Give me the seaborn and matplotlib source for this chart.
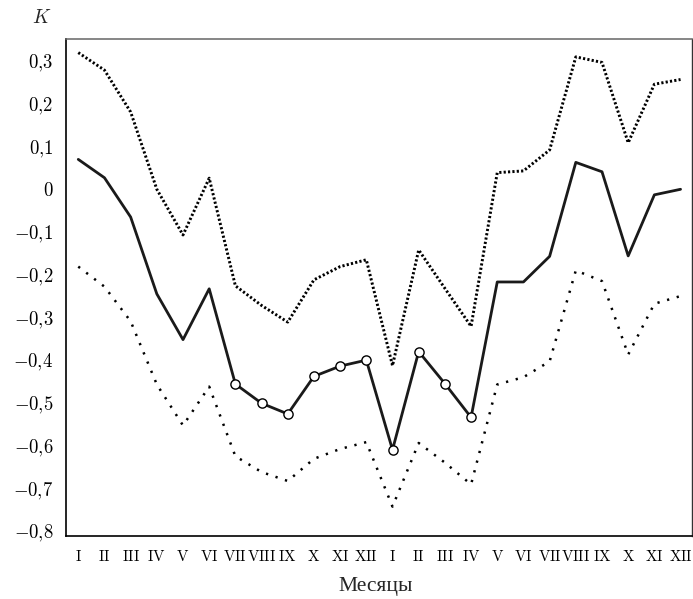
import numpy as np
import pandas as pd
import matplotlib
matplotlib.use("Agg")
import matplotlib.pyplot as plt
import seaborn as sns

# month labels, two consecutive years
months = ["I", "II", "III", "IV", "V", "VI", "VII", "VIII", "IX", "X", "XI", "XII",
          "I", "II", "III", "IV", "V", "VI", "VII", "VIII", "IX", "X", "XI", "XII"]

k_mean = [0.070, 0.027, -0.065, -0.245, -0.352, -0.233, -0.456, -0.501, -0.526, -0.438, -0.414, -0.400,
          -0.610, -0.380, -0.455, -0.534, -0.217, -0.217, -0.157, 0.063, 0.041, -0.156, -0.013, 0.000]
k_upper = [0.320, 0.279, 0.181, 0.000, -0.107, 0.026, -0.226, -0.272, -0.311, -0.212, -0.181, -0.165,
           -0.413, -0.142, -0.232, -0.321, 0.039, 0.043, 0.092, 0.310, 0.297, 0.109, 0.246, 0.257]
k_lower = [-0.181, -0.228, -0.309, -0.457, -0.553, -0.462, -0.625, -0.662, -0.683, -0.631, -0.608, -0.592,
           -0.743, -0.594, -0.640, -0.691, -0.457, -0.440, -0.403, -0.190, -0.215, -0.387, -0.268, -0.250]
# months with a marked point (circles)
marked = [False] * 6 + [True] * 10 + [False] * 8

yticks = [0.3, 0.2, 0.1, 0.0, -0.1, -0.2, -0.3, -0.4, -0.5, -0.6, -0.7, -0.8]

df = pd.DataFrame({
    "pos": np.arange(len(months)),
    "month": months,
    "mean": k_mean,
    "upper": k_upper,
    "lower": k_lower,
    "marked": marked,
})

sns.set_style("white")
plt.rcParams["mathtext.fontset"] = "cm"
plt.rcParams["font.family"] = ["Liberation Serif", "DejaVu Serif"]

fig = plt.figure(figsize=(6.93, 5.99), dpi=100)
ax = fig.add_axes([0.0948, 0.105, 0.9035, 0.830])

sns.lineplot(data=df, x="pos", y="upper", ax=ax, color="black", lw=2.1,
             linestyle=(0, (0.75, 0.75)), dash_capstyle="butt")
sns.lineplot(data=df, x="pos", y="lower", ax=ax, color="black", lw=1.8,
             linestyle=(0, (0.9, 3.1)))
sns.lineplot(data=df, x="pos", y="mean", ax=ax, color="#1a1a1a", lw=2.0)
sns.scatterplot(data=df[df["marked"]], x="pos", y="mean", ax=ax, s=44,
                facecolor="white", edgecolor="black", linewidth=1.0, zorder=5)

ax.set_xlim(-0.48, 23.43)
ax.set_ylim(-0.812, 0.352)

ax.set_xticks(df["pos"])
ax.set_xticklabels([r"$\mathrm{%s}$" % m for m in months], fontsize=11)
ax.set_yticks(yticks)
ylabels = []
for v in yticks:
    if abs(v) < 1e-9:
        ylabels.append(r"$0$")
    else:
        s = f"{v:.1f}".replace(".", "{,}")
        ylabels.append(r"$%s$" % s)
ax.set_yticklabels(ylabels, fontsize=13.5)

ax.tick_params(axis="x", direction="in", length=5, width=1.0, pad=9, colors="black")
ax.tick_params(axis="y", direction="in", length=5, width=1.0, pad=9, colors="black")

ax.set_xlabel("")
ax.set_ylabel("")
for side in ["left", "bottom"]:
    ax.spines[side].set_color("black")
    ax.spines[side].set_linewidth(1.2)
ax.spines["top"].set_color("#666666")
ax.spines["top"].set_linewidth(1.1)
ax.spines["right"].set_color("#333333")
ax.spines["right"].set_linewidth(1.0)
for side in ["left", "bottom", "top", "right"]:
    ax.spines[side].set_visible(True)

fig.text(42 / 693, 1 - 18 / 599, r"$K$", fontsize=14, ha="center", va="center")
fig.text(376 / 693, 1 - 586 / 599, "Месяцы", fontsize=15.5, ha="center", va="center")

fig.savefig("out.png", dpi=100)
